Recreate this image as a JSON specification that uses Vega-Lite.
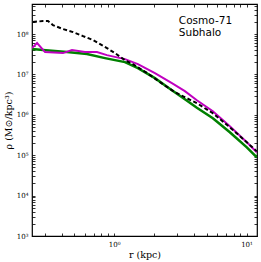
{
  "$schema": "https://vega.github.io/schema/vega-lite/v6.json",
  "width": 225,
  "height": 232,
  "autosize": {"type": "none"},
  "padding": {"left": 32, "top": 4, "right": 4, "bottom": 26},
  "background": "white",
  "config": {
    "view": {"stroke": "#000", "strokeWidth": 1.2},
    "axis": {
      "domain": false,
      "grid": false,
      "ticks": true,
      "tickColor": "#000",
      "tickSize": -3,
      "tickWidth": 0.8,
      "labelFont": "DejaVu Serif",
      "labelFontSize": 7,
      "labelColor": "#000",
      "labelPadding": 7,
      "titleFont": "DejaVu Serif",
      "titleFontSize": 9.5,
      "titleFontWeight": "normal",
      "titleColor": "#000"
    }
  },
  "datasets": {
    "dm": [
      {"r": 0.243, "rho": 1.99e8}, {"r": 0.289, "rho": 2.10e8}, {"r": 0.316, "rho": 2.10e8},
      {"r": 0.344, "rho": 1.67e8}, {"r": 0.410, "rho": 1.33e8}, {"r": 0.488, "rho": 1.12e8},
      {"r": 0.580, "rho": 8.92e7}, {"r": 0.690, "rho": 7.10e7}, {"r": 0.881, "rho": 4.49e7},
      {"r": 1.012, "rho": 3.38e7}, {"r": 1.205, "rho": 2.26e7}, {"r": 1.384, "rho": 1.80e7},
      {"r": 1.797, "rho": 1.05e7}, {"r": 2.332, "rho": 5.75e6}, {"r": 2.874, "rho": 3.64e6},
      {"r": 4.213, "rho": 1.94e6}, {"r": 5.566, "rho": 1.096e6}, {"r": 7.478, "rho": 4.92e5},
      {"r": 10.05, "rho": 2.09e5}, {"r": 11.96, "rho": 1.25e5}
    ],
    "mag": [
      {"r": 0.239, "rho": 4.49e7}, {"r": 0.261, "rho": 5.98e7}, {"r": 0.300, "rho": 3.58e7},
      {"r": 0.410, "rho": 3.38e7}, {"r": 0.479, "rho": 4.01e7}, {"r": 0.601, "rho": 3.58e7},
      {"r": 0.740, "rho": 3.58e7}, {"r": 0.881, "rho": 3.01e7}, {"r": 1.205, "rho": 2.40e7},
      {"r": 1.51, "rho": 1.80e7}, {"r": 2.03, "rho": 1.077e7}, {"r": 2.728, "rho": 6.08e6},
      {"r": 3.42, "rho": 3.85e6}, {"r": 4.213, "rho": 2.30e6}, {"r": 5.566, "rho": 1.228e6},
      {"r": 7.478, "rho": 5.21e5}, {"r": 10.05, "rho": 2.09e5}, {"r": 11.96, "rho": 1.18e5}
    ],
    "grn": [
      {"r": 0.239, "rho": 4.24e7}, {"r": 0.289, "rho": 4.01e7}, {"r": 0.439, "rho": 3.58e7},
      {"r": 0.622, "rho": 3.19e7}, {"r": 0.851, "rho": 2.54e7}, {"r": 1.205, "rho": 2.02e7},
      {"r": 1.51, "rho": 1.43e7}, {"r": 2.03, "rho": 8.09e6}, {"r": 2.728, "rho": 4.08e6},
      {"r": 3.42, "rho": 2.44e6}, {"r": 4.213, "rho": 1.50e6}, {"r": 5.566, "rho": 8.23e5},
      {"r": 7.478, "rho": 3.70e5}, {"r": 10.05, "rho": 1.57e5}, {"r": 11.96, "rho": 8.87e4}
    ],
    "lab": [
      {"r": 3.08, "rho": 1.77e8, "label": "Cosmo-71"},
      {"r": 3.08, "rho": 9.2e7, "label": "Subhalo"}
    ]
  },
  "layer": [
    {
      "data": {"name": "grn"},
      "mark": {"type": "line", "color": "#008000", "strokeWidth": 2.5, "clip": true},
      "encoding": {
        "x": {"field": "r", "type": "quantitative",
          "scale": {"type": "log", "domain": [0.239, 12], "nice": false},
          "axis": {"orient": "bottom", "title": "r (kpc)", "titlePadding": 2,
            "values": [0.3,0.4,0.5,0.6,0.7,0.8,0.9,1,2,3,4,5,6,7,8,9,10],
            "labelExpr": "abs(log(datum.value)/LN10 - round(log(datum.value)/LN10)) < 1e-6 ? '10' + ['⁰','¹','²','³','⁴','⁵','⁶','⁷','⁸','⁹'][round(log(datum.value)/LN10)] : ''"}},
        "y": {"field": "rho", "type": "quantitative",
          "scale": {"type": "log", "domain": [1000, 5.55e8], "nice": false},
          "axis": {"orient": "left", "title": "ρ (M⊙/kpc³)", "titlePadding": 3,
            "values": [1000,2000,3000,4000,5000,6000,7000,8000,9000,10000,20000,30000,40000,50000,60000,70000,80000,90000,100000,200000,300000,400000,500000,600000,700000,800000,900000,1000000,2000000,3000000,4000000,5000000,6000000,7000000,8000000,9000000,10000000,20000000,30000000,40000000,50000000,60000000,70000000,80000000,90000000,100000000,200000000,300000000,400000000,500000000],
            "labelExpr": "abs(log(datum.value)/LN10 - round(log(datum.value)/LN10)) < 1e-6 ? '10' + ['⁰','¹','²','³','⁴','⁵','⁶','⁷','⁸','⁹'][round(log(datum.value)/LN10)] : ''"}}
      }
    },
    {
      "data": {"name": "mag"},
      "mark": {"type": "line", "color": "#c000c0", "strokeWidth": 2, "clip": true},
      "encoding": {
        "x": {"field": "r", "type": "quantitative",
          "axis": {"orient": "top", "title": null, "labels": false,
            "values": [0.3,0.4,0.5,0.6,0.7,0.8,0.9,1,2,3,4,5,6,7,8,9,10]}},
        "y": {"field": "rho", "type": "quantitative",
          "axis": {"orient": "right", "title": null, "labels": false,
            "values": [1000,2000,3000,4000,5000,6000,7000,8000,9000,10000,20000,30000,40000,50000,60000,70000,80000,90000,100000,200000,300000,400000,500000,600000,700000,800000,900000,1000000,2000000,3000000,4000000,5000000,6000000,7000000,8000000,9000000,10000000,20000000,30000000,40000000,50000000,60000000,70000000,80000000,90000000,100000000,200000000,300000000,400000000,500000000]}}
      }
    },
    {
      "data": {"name": "dm"},
      "mark": {"type": "line", "color": "#000", "strokeWidth": 2, "strokeDash": [4, 2.5], "clip": true},
      "encoding": {
        "x": {"field": "r", "type": "quantitative", "axis": null},
        "y": {"field": "rho", "type": "quantitative", "axis": null}
      }
    },
    {
      "data": {"name": "lab"},
      "mark": {"type": "text", "align": "left", "baseline": "alphabetic", "font": "DejaVu Sans", "fontSize": 10.5, "color": "#000"},
      "encoding": {
        "x": {"field": "r", "type": "quantitative", "axis": null},
        "y": {"field": "rho", "type": "quantitative", "axis": null},
        "text": {"field": "label"}
      }
    }
  ],
  "resolve": {"axis": {"x": "independent", "y": "independent"}}
}
